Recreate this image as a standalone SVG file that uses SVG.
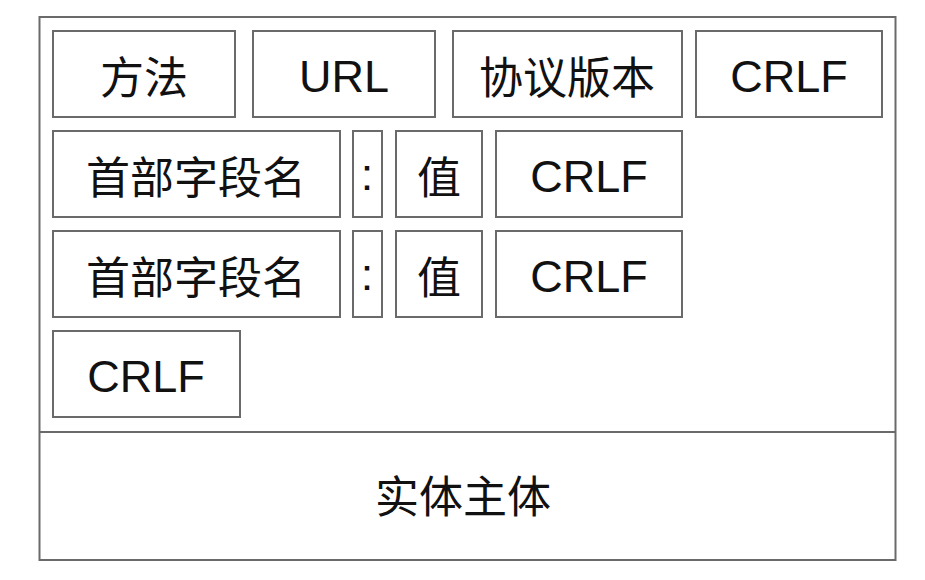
<svg xmlns="http://www.w3.org/2000/svg" width="925" height="580" viewBox="0 0 925 580">
<style>
.b{fill:#fff;stroke:#6a6a6a;stroke-width:2}
.t{font-family:"Liberation Sans","Noto Sans CJK SC",sans-serif;font-size:44px;fill:#111;text-anchor:middle}
.l{font-family:"Liberation Sans",sans-serif;font-size:45px;fill:#111;text-anchor:middle}
</style>
<rect width="925" height="580" fill="#fff"/>
<g id="frame"><rect class="b" x="39.5" y="17" width="856" height="543"/><line x1="39.5" y1="432" x2="895.5" y2="432" stroke="#6a6a6a" stroke-width="2"/></g>
<g id="method"><rect class="b" x="53" y="31" width="182" height="86"/><text class="t" x="144" y="94">方法</text></g>
<g id="url"><rect class="b" x="253" y="31" width="182" height="86"/><text class="l" x="344" y="92">URL</text></g>
<g id="version"><rect class="b" x="453" y="31" width="229" height="86"/><text class="t" x="567" y="94">协议版本</text></g>
<g id="crlf1"><rect class="b" x="696" y="31" width="186" height="86"/><text class="l" x="789" y="92">CRLF</text></g>
<g id="hname1"><rect class="b" x="53" y="131" width="287" height="86"/><text class="t" x="196" y="194">首部字段名</text></g>
<g id="colon1"><rect class="b" x="353" y="131" width="29" height="86"/><text class="l" x="367" y="190">:</text></g>
<g id="val1"><rect class="b" x="396" y="131" width="86" height="86"/><text class="t" x="439" y="194">值</text></g>
<g id="crlf2"><rect class="b" x="496" y="131" width="186" height="86"/><text class="l" x="589" y="192">CRLF</text></g>
<g id="hname2"><rect class="b" x="53" y="231" width="287" height="86"/><text class="t" x="196" y="294">首部字段名</text></g>
<g id="colon2"><rect class="b" x="353" y="231" width="29" height="86"/><text class="l" x="367" y="290">:</text></g>
<g id="val2"><rect class="b" x="396" y="231" width="86" height="86"/><text class="t" x="439" y="294">值</text></g>
<g id="crlf3"><rect class="b" x="496" y="231" width="186" height="86"/><text class="l" x="589" y="292">CRLF</text></g>
<g id="crlf4"><rect class="b" x="53" y="331" width="187" height="86"/><text class="l" x="146" y="392">CRLF</text></g>
<g id="body"><text class="t" x="463" y="513">实体主体</text></g>
<g id="connectors"/>
</svg>
